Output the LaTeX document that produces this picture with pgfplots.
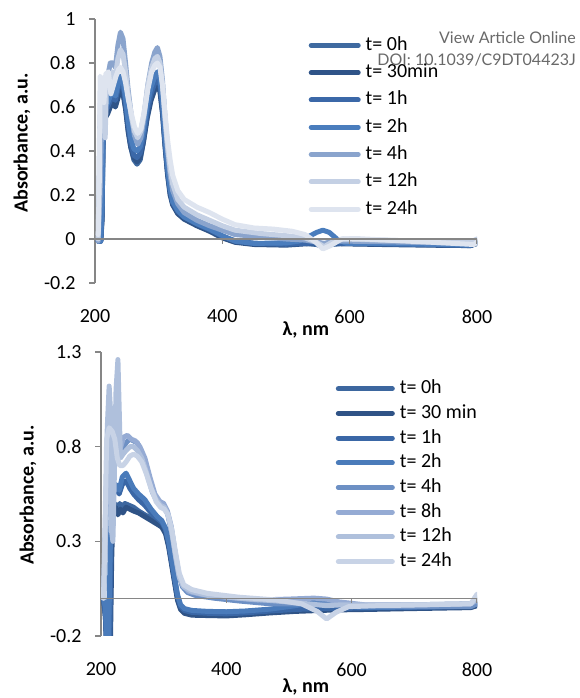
\documentclass[border=0pt]{standalone}
\usepackage{fontspec}
\setmainfont{Carlito}
\newfontfamily\latofont{Lato}
\usepackage{pgfplots}
\pgfplotsset{compat=1.18}
\definecolor{axisgray}{RGB}{134,134,134}
\definecolor{wmgray}{RGB}{105,105,105}
% top colours
\definecolor{ta}{RGB}{63,106,160}
\definecolor{tb}{RGB}{47,84,136}
\definecolor{tc}{RGB}{59,104,168}
\definecolor{td}{RGB}{74,125,189}
\definecolor{te}{RGB}{138,164,205}
\definecolor{tf}{RGB}{196,208,228}
\definecolor{tg}{RGB}{222,228,239}
% bottom colours
\definecolor{ba}{RGB}{61,103,159}
\definecolor{bb}{RGB}{47,83,134}
\definecolor{bc}{RGB}{58,103,166}
\definecolor{bd}{RGB}{74,123,186}
\definecolor{be}{RGB}{109,144,196}
\definecolor{bf}{RGB}{149,171,212}
\definecolor{bg}{RGB}{175,192,220}
\definecolor{bh}{RGB}{200,211,230}
\pgfplotsset{
  myaxis/.style={
    scale only axis,
    xmin=200, xmax=800,
    axis lines*=left,
    x axis line style={draw=none},
    y axis line style={draw=axisgray, line width=1.2pt},
    xtick style={draw=none},
    ytick style={draw=axisgray, line width=1.2pt},
    tick align=outside,
    major tick length=6pt,
    xtick={200,400,600,800},
    xticklabels={200,400,600,800},
    tick label style={font=\fontsize{20}{24}\selectfont},
    yticklabel style={xshift=-10pt},
    xticklabel style={yshift=-17pt},
    label style={font=\bfseries\fontsize{20}{24}\selectfont},
    legend cell align=left,
  },
  sp/.style={line width=5pt, line cap=round, line join=round, no markers},
}
\begin{document}
\begin{tikzpicture}[x=1pt,y=1pt]
\useasboundingbox (0,0) rectangle (579,698);
% ---------------- TOP ----------------
\begin{axis}[myaxis,
  at={(95pt,415pt)}, anchor=south west,
  width=382pt, height=264pt,
  ymin=-0.2, ymax=1,
  ytick={-0.2,0,0.2,0.4,0.6,0.8,1},
  yticklabels={-0.2,0,0.2,0.4,0.6,0.8,1},
  xlabel={λ, nm},
  xlabel style={at={(axis description cs:0.552,0)}, anchor=center, yshift=-47pt},
  ylabel={Absorbance, a.u.},
  ylabel style={at={(axis description cs:0,0.53)}, anchor=center, yshift=73pt},
  legend style={draw=none, fill=none, at={(axis description cs:0.559,0.935)}, anchor=north west,
    font=\fontsize{20}{24}\selectfont, inner sep=0pt, row sep=9.3pt, column sep=5pt,
    nodes={inner sep=0pt, text height=14pt, text depth=4pt}},
  legend image code/.code={\draw (0pt,0pt) -- (47pt,0pt);},
]
\addplot[sp, ta] coordinates {(205,-0.01) (209,-0.01) (211,0.1) (213,0.52) (216,0.57) (220,0.59) (224,0.62) (228,0.64) (232,0.62) (236,0.66) (240,0.70) (244,0.68) (248,0.60) (252,0.50) (256,0.42) (261,0.36) (266,0.34) (271,0.36) (276,0.44) (282,0.56) (288,0.64) (294,0.69) (298,0.71) (302,0.68) (306,0.58) (310,0.43) (314,0.30) (318,0.21) (322,0.16) (330,0.12) (340,0.095) (360,0.065) (380,0.04) (400,0.01) (420,-0.01) (450,-0.02) (500,-0.025) (530,-0.02) (548,-0.025) (560,-0.035) (572,-0.025) (590,-0.02) (650,-0.022) (720,-0.025) (790,-0.03) (800,-0.02)};
\addlegendentry{t= 0h}
\addplot[sp, tb] coordinates {(205,-0.01) (209,-0.01) (211,0.08) (213,0.50) (216,0.55) (220,0.57) (224,0.60) (228,0.62) (232,0.60) (236,0.64) (240,0.68) (244,0.66) (248,0.59) (252,0.49) (256,0.42) (261,0.37) (266,0.35) (271,0.37) (276,0.44) (282,0.55) (288,0.63) (294,0.68) (298,0.70) (302,0.67) (306,0.57) (310,0.42) (314,0.29) (318,0.20) (322,0.155) (330,0.115) (340,0.09) (360,0.06) (380,0.035) (400,0.005) (420,-0.015) (450,-0.025) (500,-0.028) (530,-0.022) (550,-0.02) (560,-0.025) (570,-0.02) (590,-0.022) (650,-0.025) (720,-0.028) (790,-0.03) (800,-0.02)};
\addlegendentry{t= 30min}
\addplot[sp, tc] coordinates {(205,-0.01) (209,-0.01) (211,0.12) (213,0.54) (216,0.58) (220,0.60) (224,0.63) (228,0.65) (232,0.63) (236,0.68) (240,0.72) (244,0.70) (248,0.62) (252,0.52) (256,0.44) (261,0.38) (266,0.37) (271,0.39) (276,0.46) (282,0.58) (288,0.66) (294,0.71) (298,0.73) (302,0.70) (306,0.60) (310,0.44) (314,0.31) (318,0.22) (322,0.165) (330,0.125) (340,0.10) (360,0.068) (380,0.042) (400,0.012) (420,-0.008) (450,-0.02) (500,-0.024) (530,-0.02) (550,-0.018) (560,-0.022) (570,-0.018) (590,-0.02) (650,-0.022) (720,-0.025) (790,-0.028) (800,-0.015)};
\addlegendentry{t= 1h}
\addplot[sp, td] coordinates {(205,-0.01) (209,-0.01) (211,0.15) (213,0.55) (216,0.60) (220,0.62) (224,0.65) (228,0.67) (232,0.65) (236,0.70) (240,0.74) (244,0.72) (248,0.64) (252,0.54) (256,0.46) (261,0.41) (266,0.40) (271,0.42) (276,0.49) (282,0.61) (288,0.69) (294,0.74) (298,0.76) (302,0.73) (306,0.62) (310,0.46) (314,0.33) (318,0.23) (322,0.17) (330,0.13) (340,0.10) (360,0.07) (380,0.045) (400,0.015) (420,-0.01) (450,-0.02) (500,-0.018) (520,-0.01) (535,0.01) (548,0.03) (558,0.04) (568,0.03) (580,0.0) (595,-0.02) (650,-0.02) (720,-0.024) (790,-0.028) (800,-0.015)};
\addlegendentry{t= 2h}
\addplot[sp, te] coordinates {(205,-0.01) (208,0.2) (211,0.6) (215,0.70) (220,0.74) (224,0.80) (228,0.80) (232,0.78) (236,0.88) (240,0.94) (244,0.91) (248,0.80) (252,0.68) (257,0.56) (262,0.47) (267,0.43) (272,0.46) (277,0.55) (283,0.70) (289,0.80) (294,0.85) (298,0.87) (302,0.83) (306,0.72) (310,0.55) (314,0.40) (318,0.29) (322,0.22) (330,0.16) (340,0.12) (360,0.085) (380,0.06) (400,0.04) (420,0.02) (460,0.01) (500,0.0) (530,-0.005) (550,-0.015) (560,-0.02) (575,-0.01) (600,-0.01) (700,-0.015) (790,-0.02) (800,-0.005)};
\addlegendentry{t= 4h}
\addplot[sp, tf] coordinates {(205,0.0) (207,0.45) (209,0.72) (212,0.73) (216,0.46) (218,0.70) (220,0.75) (224,0.72) (228,0.76) (232,0.74) (236,0.82) (240,0.86) (244,0.84) (248,0.76) (252,0.66) (257,0.56) (262,0.49) (267,0.46) (272,0.49) (277,0.57) (283,0.70) (289,0.78) (294,0.82) (298,0.83) (302,0.80) (306,0.70) (310,0.55) (314,0.42) (318,0.32) (322,0.25) (330,0.18) (340,0.145) (360,0.11) (380,0.085) (400,0.06) (420,0.04) (460,0.025) (500,0.015) (530,0.005) (548,-0.015) (560,-0.035) (572,-0.015) (590,0.0) (650,-0.005) (720,-0.01) (790,-0.015) (800,0.0)};
\addlegendentry{t= 12h}
\addplot[sp, tg] coordinates {(205,0.02) (207,0.30) (208,0.74) (211,0.72) (214,0.62) (217,0.75) (221,0.76) (225,0.66) (229,0.70) (233,0.74) (237,0.77) (240,0.78) (244,0.76) (248,0.71) (252,0.64) (257,0.57) (262,0.51) (267,0.48) (272,0.50) (277,0.57) (283,0.68) (289,0.76) (294,0.79) (298,0.80) (302,0.78) (306,0.70) (310,0.57) (314,0.45) (318,0.36) (322,0.29) (330,0.22) (340,0.18) (360,0.145) (380,0.12) (400,0.09) (420,0.065) (450,0.05) (480,0.045) (510,0.035) (530,0.02) (545,-0.01) (558,-0.045) (570,-0.03) (587,0.0) (610,0.002) (680,-0.008) (750,-0.018) (795,-0.025) (800,-0.015)};
\addlegendentry{t= 24h}
\draw[axisgray, line width=1.2pt] (axis cs:200,0) -- (axis cs:800,0);
\draw[axisgray, line width=1.2pt] (axis cs:400,0) -- ([yshift=-5pt]axis cs:400,0);
\draw[axisgray, line width=1.2pt] (axis cs:600,0) -- ([yshift=-5pt]axis cs:600,0);
\draw[axisgray, line width=1.2pt] (axis cs:800,0) -- ([yshift=-5pt]axis cs:800,0);
\end{axis}
% ---------------- BOTTOM ----------------
\begin{axis}[myaxis,
  at={(101pt,62pt)}, anchor=south west,
  width=376pt, height=284pt,
  ymin=-0.2, ymax=1.3,
  ytick={-0.2,0.3,0.8,1.3},
  yticklabels={-0.2,0.3,0.8,1.3},
  xlabel={λ, nm},
  xlabel style={at={(axis description cs:0.545,0)}, anchor=center, yshift=-51pt},
  ylabel={Absorbance, a.u.},
  ylabel style={at={(axis description cs:0,0.496)}, anchor=center, yshift=73pt},
  legend style={draw=none, fill=none, at={(axis description cs:0.624,0.903)}, anchor=north west,
    font=\fontsize{20}{24}\selectfont, inner sep=0pt, row sep=6.7pt, column sep=5pt,
    nodes={inner sep=0pt, text height=14pt, text depth=4pt}},
  legend image code/.code={\draw (0pt,0pt) -- (54pt,0pt);},
]
\addplot[sp, ba] coordinates {(204,0.0) (207,-0.08) (209,-0.25) (214,-0.25) (216,0.2) (218,0.47) (222,0.50) (226,0.46) (230,0.50) (234,0.47) (238,0.50) (245,0.49) (252,0.48) (260,0.46) (270,0.44) (280,0.42) (290,0.40) (297,0.385) (303,0.35) (308,0.28) (313,0.18) (318,0.08) (322,0.0) (327,-0.05) (333,-0.07) (345,-0.08) (370,-0.085) (400,-0.088) (430,-0.082) (470,-0.072) (510,-0.065) (550,-0.06) (580,-0.058) (620,-0.055) (700,-0.05) (790,-0.045) (800,-0.035)};
\addlegendentry{t= 0h}
\addplot[sp, bb] coordinates {(204,0.0) (207,-0.1) (209,-0.25) (215,-0.25) (217,0.2) (219,0.45) (223,0.48) (227,0.44) (231,0.47) (235,0.45) (240,0.48) (246,0.47) (252,0.46) (260,0.45) (270,0.43) (280,0.41) (290,0.39) (297,0.375) (303,0.34) (308,0.27) (313,0.17) (318,0.07) (322,-0.01) (327,-0.06) (333,-0.08) (345,-0.09) (370,-0.092) (400,-0.094) (430,-0.088) (470,-0.078) (510,-0.07) (550,-0.065) (580,-0.062) (620,-0.06) (700,-0.055) (790,-0.05) (800,-0.04)};
\addlegendentry{t= 30 min}
\addplot[sp, bc] coordinates {(204,0.0) (207,-0.1) (209,-0.25) (214,-0.25) (216,0.3) (219,0.55) (224,0.58) (229,0.55) (234,0.60) (240,0.62) (246,0.58) (252,0.55) (260,0.52) (270,0.49) (280,0.45) (290,0.42) (297,0.40) (303,0.36) (308,0.29) (313,0.19) (318,0.09) (322,0.01) (327,-0.045) (333,-0.065) (345,-0.075) (370,-0.08) (400,-0.083) (430,-0.078) (470,-0.068) (510,-0.06) (550,-0.055) (580,-0.055) (620,-0.052) (700,-0.048) (790,-0.043) (800,-0.03)};
\addlegendentry{t= 1h}
\addplot[sp, bd] coordinates {(204,0.0) (207,-0.05) (209,-0.2) (212,-0.22) (215,0.3) (218,0.55) (224,0.60) (229,0.57) (234,0.64) (240,0.66) (246,0.62) (252,0.58) (260,0.55) (270,0.52) (280,0.47) (290,0.43) (297,0.41) (303,0.37) (308,0.30) (313,0.20) (318,0.10) (322,0.02) (327,-0.035) (333,-0.055) (345,-0.065) (370,-0.07) (400,-0.072) (430,-0.068) (470,-0.058) (510,-0.04) (540,-0.02) (565,-0.015) (585,-0.04) (620,-0.05) (700,-0.047) (790,-0.043) (800,-0.03)};
\addlegendentry{t= 2h}
\addplot[sp, be] coordinates {(204,0.0) (207,0.3) (210,0.7) (214,0.76) (220,0.72) (226,0.74) (232,0.78) (240,0.82) (246,0.84) (252,0.83) (258,0.82) (264,0.78) (270,0.72) (276,0.64) (282,0.56) (288,0.52) (294,0.50) (300,0.49) (306,0.45) (312,0.36) (318,0.24) (324,0.12) (330,0.06) (338,0.03) (350,0.015) (380,0.0) (420,-0.015) (470,-0.03) (520,-0.03) (560,-0.03) (600,-0.04) (700,-0.045) (790,-0.045) (800,-0.03)};
\addlegendentry{t= 4h}
\addplot[sp, bf] coordinates {(204,0.0) (207,0.4) (210,0.82) (213,0.80) (218,0.75) (224,0.72) (230,0.78) (236,0.85) (242,0.86) (248,0.84) (255,0.83) (262,0.80) (270,0.74) (278,0.64) (286,0.55) (294,0.51) (300,0.50) (306,0.46) (312,0.38) (318,0.25) (324,0.13) (330,0.07) (340,0.035) (360,0.02) (400,0.005) (450,-0.01) (500,-0.005) (540,0.0) (560,-0.005) (580,-0.02) (620,-0.035) (700,-0.035) (790,-0.03) (800,-0.01)};
\addlegendentry{t= 8h}
\addplot[sp, bg] coordinates {(204,0.0) (207,0.3) (210,0.9) (213,1.12) (215,1.0) (217,0.35) (219,0.3) (221,0.6) (224,1.1) (227,1.26) (229,1.0) (231,0.74) (235,0.76) (240,0.78) (246,0.80) (252,0.80) (258,0.78) (265,0.74) (272,0.67) (280,0.58) (288,0.52) (295,0.49) (301,0.48) (307,0.44) (313,0.35) (319,0.22) (325,0.11) (332,0.06) (345,0.035) (370,0.015) (420,0.0) (480,-0.015) (530,-0.03) (560,-0.04) (585,-0.035) (620,-0.035) (700,-0.035) (790,-0.03) (800,0.0)};
\addlegendentry{t= 12h}
\addplot[sp, bh] coordinates {(204,0.0) (206,0.3) (209,0.84) (213,0.90) (218,0.88) (222,0.84) (226,0.74) (230,0.70) (235,0.70) (240,0.72) (246,0.75) (252,0.76) (258,0.75) (265,0.72) (272,0.66) (280,0.58) (288,0.51) (295,0.48) (301,0.47) (307,0.44) (313,0.36) (319,0.24) (325,0.13) (332,0.07) (345,0.045) (370,0.025) (420,0.005) (480,-0.01) (520,-0.03) (545,-0.07) (560,-0.11) (575,-0.075) (595,-0.045) (640,-0.04) (720,-0.035) (790,-0.03) (800,0.02)};
\addlegendentry{t= 24h}
\draw[axisgray, line width=1.2pt] (axis cs:200,0) -- (axis cs:800,0);
\draw[axisgray, line width=1.2pt] (axis cs:400,0) -- ([yshift=-5pt]axis cs:400,0);
\draw[axisgray, line width=1.2pt] (axis cs:600,0) -- ([yshift=-5pt]axis cs:600,0);
\draw[axisgray, line width=1.2pt] (axis cs:800,0) -- ([yshift=-5pt]axis cs:800,0);
\end{axis}
% watermark
\node[anchor=east, text=wmgray, font=\latofont\fontsize{16}{19}\selectfont, inner sep=0pt] at (576,660) {View Article Online};
\node[anchor=east, text=wmgray, font=\latofont\fontsize{16}{19}\selectfont, inner sep=0pt] at (576,638) {DOI: 10.1039/C9DT04423J};
\end{tikzpicture}
\end{document}
